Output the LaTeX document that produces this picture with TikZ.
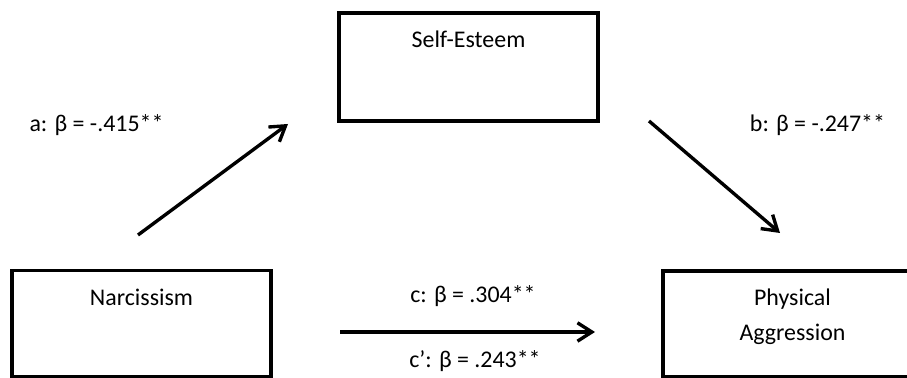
\documentclass[tikz,border=0pt]{standalone}
\usepackage{fontspec}
\setmainfont{Carlito}
\usetikzlibrary{arrows.meta}

\begin{document}
\begin{tikzpicture}[>={Straight Barb[length=3.6mm,width=4.6mm]}]
    % box style
    \tikzstyle{varbox}=[
      draw,
      rectangle,
      line width=2.4pt,
      minimum width=6.475cm,
      inner sep=0pt,
      text height=0.87cm,
      text depth=1.83cm,
      align=center,
      font=\fontsize{17}{25}\selectfont
    ]
    % path coefficients and arrows
    \tikzstyle{coef}=[anchor=base, font=\fontsize{17}{25}\selectfont]
    \tikzstyle{effect}=[->, line width=2.4pt]

    \useasboundingbox (0,0) rectangle (22.675,9.45);

    % Mediator on top
    \node[varbox] (SE) at (11.7125,7.775) {Self-Esteem};

    % Predictor and outcome at the bottom
    \node[varbox, text depth=1.78cm] (N) at (3.5375,1.356) {Narcissism};
    \node[varbox, text height=1.745cm, text depth=0.895cm] (PA) at (19.8125,1.356) {Physical\\Aggression};

    % Arrow ends
    \coordinate (a0) at (3.45,3.575);
    \coordinate (a1) at (7.2,6.35);
    \coordinate (b0) at (16.225,6.425);
    \coordinate (b1) at (19.5,3.625);
    \coordinate (c0) at (8.5,1.15);
    \coordinate (c1) at (14.875,1.15);

    % Arrows
    \draw[effect] (a0) -- (a1);
    \draw[effect] (b0) -- (b1);
    \draw[effect] (c0) -- (c1);

    % Coefficients
    \node[coef] (la) at (2.4125,6.15) {a: β = -.415**};
    \node[coef] (lb) at (20.4375,6.15) {b: β = -.247**};
    \node[coef] (lc) at (11.825,1.875) {c: β = .304**};
    \node[coef] (ld) at (11.875,0.25) {c’: β = .243**};
  \end{tikzpicture}
\end{document}
